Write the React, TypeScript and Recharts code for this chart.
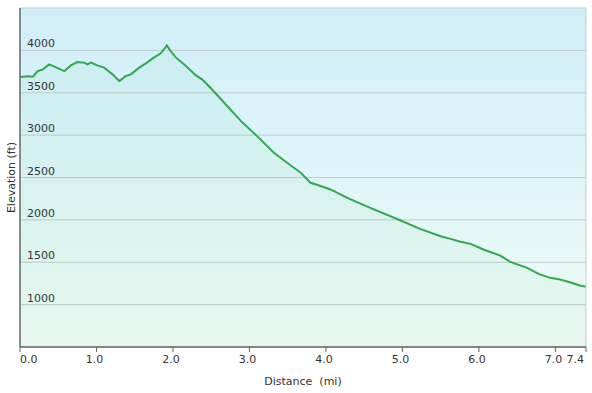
import {
  ComposedChart,
  Area,
  XAxis,
  YAxis,
  CartesianGrid,
  ReferenceLine,
} from "recharts";

// distance (mi) / elevation (ft)
const distance = [
  0.0, 0.1, 0.17, 0.23, 0.3, 0.38, 0.45, 0.51, 0.58, 0.67, 0.75, 0.84, 0.88,
  0.93, 1.01, 1.1, 1.21, 1.3, 1.38, 1.45, 1.56, 1.67, 1.75, 1.84, 1.92, 1.97,
  2.04, 2.17, 2.3, 2.38, 2.49, 2.67, 2.89, 3.1, 3.32, 3.54, 3.67, 3.8, 3.91,
  4.06, 4.28, 4.58, 4.97, 5.23, 5.5, 5.63, 5.76, 5.89, 6.06, 6.28, 6.41, 6.63,
  6.78, 6.93, 7.06, 7.19, 7.32, 7.4,
];
const elevation = [
  3685, 3696, 3689, 3756, 3776, 3835, 3808, 3784, 3756, 3826, 3862, 3855, 3835,
  3855, 3823, 3796, 3717, 3637, 3696, 3717, 3796, 3862, 3914, 3965, 4059, 3992,
  3914, 3815, 3705, 3658, 3559, 3382, 3165, 2988, 2792, 2642, 2556, 2438, 2406,
  2359, 2260, 2142, 1996, 1894, 1807, 1776, 1741, 1717, 1650, 1579, 1505, 1434,
  1363, 1316, 1296, 1264, 1225, 1210,
];
const xTicks = [0, 1, 2, 3, 4, 5, 6, 7, 7.4];
const yTicks = [500, 1000, 1500, 2000, 2500, 3000, 3500, 4000, 4500];

const data = distance.map((d, i) => ({ d, elev: elevation[i] }));

const font = "'DejaVu Sans', Verdana, sans-serif";

const XTick = (props: any) => {
  const { x, y, payload } = props;
  const v = payload.value;
  let anchor = "middle";
  let dx = -2;
  if (v === 0) {
    anchor = "start";
    dx = 0;
  } else if (v === 7.4) {
    anchor = "end";
    dx = -2;
  }
  return (
    <text
      x={x}
      y={y}
      dx={dx}
      dy={9}
      textAnchor={anchor}
      fill="#333"
      fontSize={11}
      fontFamily={font}
    >
      {v.toFixed(1)}
    </text>
  );
};

const YTick = (props: any) => {
  const { y, payload } = props;
  if (payload.value === 500 || payload.value === 4500) return <g />;
  return (
    <text x={27} y={y - 3} fill="#333" fontSize={11} fontFamily={font}>
      {payload.value}
    </text>
  );
};

export default function App() {
  return (
    <div style={{ position: "absolute", left: 0, top: 0 }}>
      <ComposedChart
        width={592}
        height={393}
        data={data}
        margin={{ top: 8, right: 6, left: 0, bottom: 0 }}
      >
        <defs>
          <linearGradient id="bg" x1="0" y1="0" x2="0" y2="1">
            <stop offset="0%" stopColor="#d0eefa" />
            <stop offset="100%" stopColor="#effcf6" />
          </linearGradient>
        </defs>
        <CartesianGrid
          vertical={false}
          stroke="#c3cbcf"
          fill="url(#bg)"
          fillOpacity={1}
        />
        <XAxis
          dataKey="d"
          type="number"
          domain={[0, 7.4]}
          ticks={xTicks}
          interval={0}
          tick={<XTick />}
          tickSize={5}
          height={46}
          axisLine={{ stroke: "#666", strokeWidth: 1.5 }}
          tickLine={{ stroke: "#666" }}
          label={{
            value: "Distance\u00a0 (mi)",
            position: "insideBottom",
            offset: 8,
            fill: "#333",
            fontSize: 11,
            fontFamily: font,
          }}
        />
        <YAxis
          type="number"
          domain={[500, 4500]}
          ticks={yTicks}
          interval={0}
          width={20}
          tick={<YTick />}
          tickLine={false}
          axisLine={{ stroke: "#666", strokeWidth: 1.5 }}
          label={{
            value: "Elevation (ft)",
            angle: -90,
            position: "insideLeft",
            offset: 11,
            fill: "#333",
            fontSize: 11,
            fontFamily: font,
            style: { textAnchor: "middle" },
          }}
        />
        <ReferenceLine x={7.4} stroke="#c3cbcf" />
        <Area
          type="linear"
          dataKey="elev"
          stroke="#30a850"
          strokeWidth={2}
          fill="#3cc060"
          fillOpacity={0.05}
          dot={false}
          activeDot={false}
          isAnimationActive={false}
        />
      </ComposedChart>
    </div>
  );
}
